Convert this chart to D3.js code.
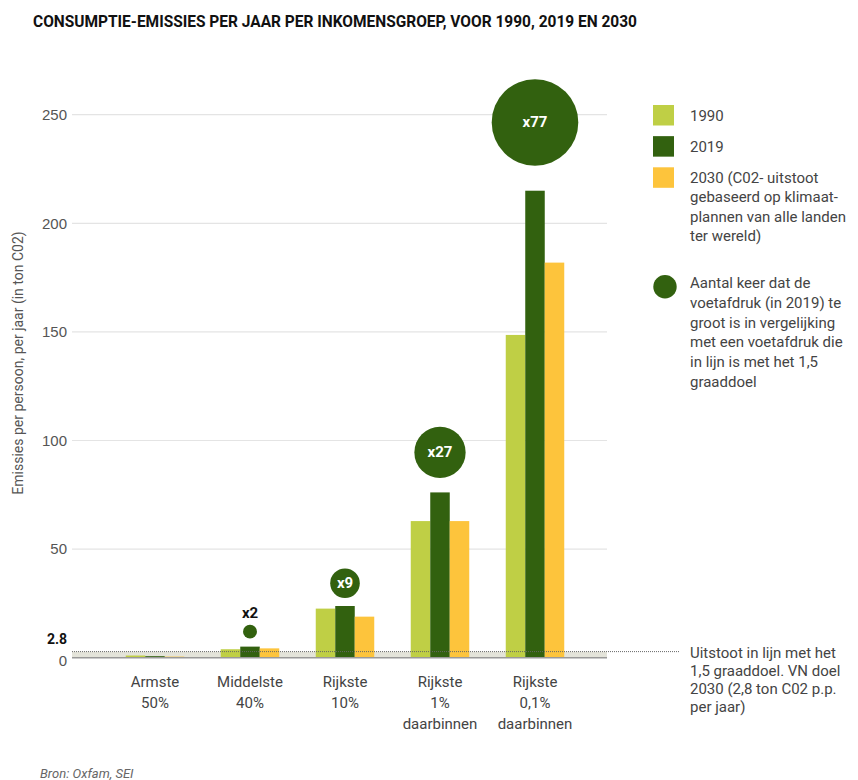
<!DOCTYPE html>
<html>
<head>
<meta charset="utf-8">
<script src="https://cdn.jsdelivr.net/npm/d3@7"></script>
<style>
  body { margin: 0; background: #fff; }
  svg { font-family: Roboto, "Noto Sans", sans-serif; }
  .tick text { fill: #555; font-size: 15px; }
  .lbl { fill: #444; font-size: 15px; }
</style>
</head>
<body>
<svg width="858" height="780"></svg>
<script>
// data
const groups = ["Armste 50%", "Middelste 40%", "Rijkste 10%", "Rijkste 1% daarbinnen", "Rijkste 0,1% daarbinnen"];
const groupLines = [["Armste", "50%"], ["Middelste", "40%"], ["Rijkste", "10%"], ["Rijkste", "1%", "daarbinnen"], ["Rijkste", "0,1%", "daarbinnen"]];
const years = ["1990", "2019", "2030"];
const v1990 = [1.0, 3.9, 22.6, 62.9, 148.6];
const v2019 = [0.7, 5.1, 23.8, 76.1, 215];
const v2030 = [0.5, 4.3, 18.9, 62.9, 181.9];
const factor = [null, 2, 9, 27, 77];
const yTicks = [0, 50, 100, 150, 200, 250];
const target = 2.8;

const colors = { "1990": "#bfcf45", "2019": "#32610f", "2030": "#fdc43c" };
const series = { "1990": v1990, "2019": v2019, "2030": v2030 };

const svg = d3.select("svg");

const x0 = d3.scalePoint().domain(groups).range([155, 535]);
const x1 = d3.scaleBand().domain(years).range([-29.25, 29.25]);
const y = d3.scaleLinear().domain([0, 250]).range([657.7, 114.7]);
const r = d3.scaleSqrt().domain([0, 77]).range([0, 43.3]);

const left = 72, right = 607;

// title
svg.append("text")
  .attr("x", 33).attr("y", 26.5)
  .attr("font-size", 16).attr("font-weight", 700).attr("fill", "#111")
  .attr("textLength", 604).attr("lengthAdjust", "spacingAndGlyphs")
  .text("CONSUMPTIE-EMISSIES PER JAAR PER INKOMENSGROEP, VOOR 1990, 2019 EN 2030");

// gridlines
svg.append("g")
  .selectAll("line")
  .data(yTicks.filter(d => d > 0))
  .enter()
  .append("line")
  .attr("x1", left).attr("x2", right)
  .attr("y1", d => y(d)).attr("y2", d => y(d))
  .attr("stroke", "#e4e4e4").attr("stroke-width", 1.2);

// y axis
const yAxis = svg.append("g")
  .attr("transform", "translate(67,0)")
  .call(d3.axisLeft(y).tickValues(yTicks).tickSize(0).tickPadding(0));
yAxis.select(".domain").remove();
yAxis.selectAll(".tick text").attr("dy", d => d === 0 ? "0.5em" : "0.32em");

svg.append("text")
  .attr("transform", "translate(23,363) rotate(-90)")
  .attr("text-anchor", "middle")
  .attr("font-size", 14).attr("fill", "#555")
  .text("Emissies per persoon, per jaar (in ton C02)");

// band 0 - 2.8
svg.append("rect")
  .attr("x", left).attr("width", right - left)
  .attr("y", y(target)).attr("height", y(0) - y(target))
  .attr("fill", "#e4e4da");

// bars
const g = svg.selectAll("g.group")
  .data(groups)
  .enter()
  .append("g")
  .attr("class", "group")
  .attr("transform", d => `translate(${x0(d)},0)`);

g.selectAll("rect")
  .data((d, i) => years.map(yr => ({ yr, v: series[yr][i] })))
  .enter()
  .append("rect")
  .attr("x", d => x1(d.yr))
  .attr("width", x1.bandwidth())
  .attr("y", d => y(d.v))
  .attr("height", d => y(0) - y(d.v))
  .attr("fill", d => colors[d.yr]);

// baseline + target line
svg.append("line")
  .attr("x1", left).attr("x2", right)
  .attr("y1", y(0)).attr("y2", y(0))
  .attr("stroke", "#999").attr("stroke-width", 1.5);

svg.append("line")
  .attr("x1", left).attr("x2", 680)
  .attr("y1", y(target)).attr("y2", y(target))
  .attr("stroke", "#666").attr("stroke-width", 1)
  .attr("stroke-dasharray", "1,1");

svg.append("text")
  .attr("x", 67).attr("y", y(target) - 8)
  .attr("text-anchor", "end")
  .attr("font-size", 14).attr("font-weight", 700).attr("fill", "#111")
  .text("2.8");

// factor circles
const fc = g.filter((d, i) => factor[i] !== null)
  .append("g")
  .attr("transform", d => {
    const k = groups.indexOf(d);
    const rr = r(factor[k]);
    const gap = Math.max(8, 0.6 * rr - 1);
    return `translate(${x1("2019") + x1.bandwidth() / 2},${y(v2019[k]) - gap - rr})`;
  });

fc.append("circle")
  .attr("r", d => r(factor[groups.indexOf(d)]))
  .attr("fill", "#32610f");

fc.append("text")
  .attr("text-anchor", "middle")
  .attr("font-weight", 700)
  .attr("font-size", 15)
  .attr("fill", d => factor[groups.indexOf(d)] > 5 ? "#fff" : "#111")
  .attr("y", d => {
    const f = factor[groups.indexOf(d)];
    return f > 5 ? 5 : -r(f) - 7;
  })
  .text(d => "x" + factor[groups.indexOf(d)]);

// category labels
g.append("text")
  .attr("class", "lbl")
  .attr("text-anchor", "middle")
  .selectAll("tspan")
  .data((d, i) => groupLines[i])
  .enter()
  .append("tspan")
  .attr("x", 0)
  .attr("y", (d, i) => 687 + i * 21)
  .text(d => d);

// legend
const leg = svg.append("g").attr("transform", "translate(653,0)");
const legendText = [["1990"], ["2019"], ["2030 (C02- uitstoot", "gebaseerd op klimaat-", "plannen van alle landen", "ter wereld)"]];
const legY = d3.scalePoint().domain(years).range([105, 167.3]);

years.forEach((yr, i) => {
  leg.append("rect")
    .attr("x", 0).attr("y", legY(yr))
    .attr("width", 21).attr("height", 20.5)
    .attr("fill", colors[yr]);
  leg.append("text")
    .attr("class", "lbl")
    .selectAll("tspan")
    .data(legendText[i])
    .enter()
    .append("tspan")
    .attr("x", 37)
    .attr("y", (d, j) => legY(yr) + 15.5 + j * 19.5)
    .text(d => d);
});

leg.append("circle")
  .attr("cx", 12).attr("cy", 286.7).attr("r", 11.7)
  .attr("fill", "#32610f");
leg.append("text")
  .attr("class", "lbl")
  .selectAll("tspan")
  .data(["Aantal keer dat de", "voetafdruk (in 2019) te", "groot is in vergelijking", "met een voetafdruk die", "in lijn is met het 1,5", "graaddoel"])
  .enter()
  .append("tspan")
  .attr("x", 37)
  .attr("y", (d, j) => 288 + j * 19.8)
  .text(d => d);

// target annotation
svg.append("text")
  .attr("class", "lbl")
  .selectAll("tspan")
  .data(["Uitstoot in lijn met het", "1,5 graaddoel. VN doel", "2030 (2,8 ton C02 p.p.", "per jaar)"])
  .enter()
  .append("tspan")
  .attr("x", 690)
  .attr("y", (d, j) => 658 + j * 18)
  .text(d => d);

// source
svg.append("text")
  .attr("x", 40).attr("y", 778)
  .attr("font-size", 13).attr("font-style", "italic").attr("fill", "#666")
  .text("Bron: Oxfam, SEI");
</script>
</body>
</html>
